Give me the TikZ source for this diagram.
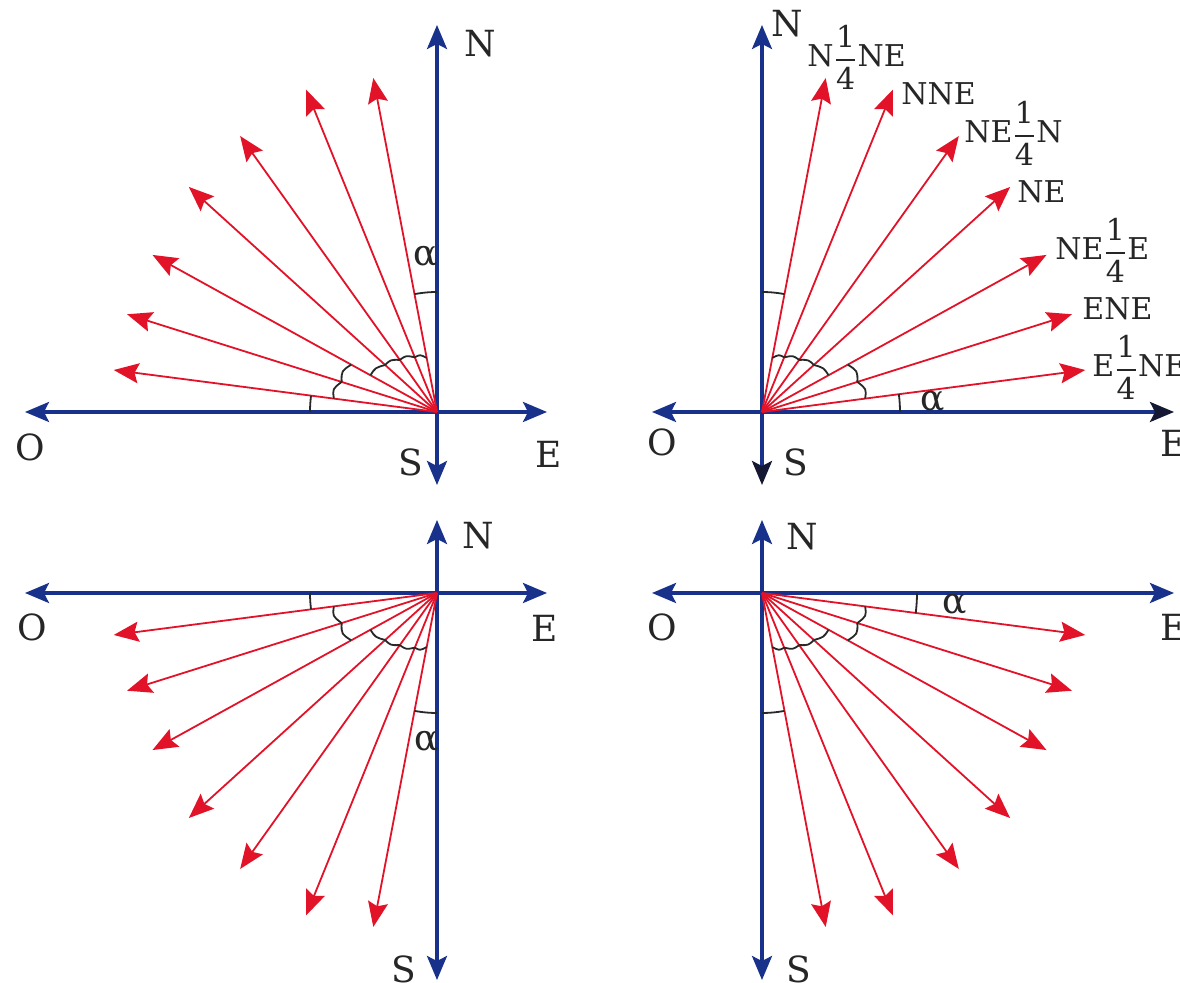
\documentclass[tikz,border=0pt]{standalone}
\usepackage{amsmath}
\usepackage{fontspec}
\setmainfont{DejaVu Serif}
\usetikzlibrary{arrows.meta}
\definecolor{axisblue}{RGB}{24,50,140}
\definecolor{vecred}{RGB}{226,18,40}
\definecolor{arcdark}{RGB}{40,40,40}
\definecolor{headdark}{RGB}{20,24,50}
\newcommand\qfrac{\ensuremath{\genfrac{}{}{1.1pt}{0}{\mbox{1}}{\mbox{4}}}}
\tikzset{
  axisline/.style={draw=axisblue,line width=1.6pt},
  vec/.style={draw=vecred,line width=0.9pt,-{Stealth[length=12.5pt,width=10pt,inset=2pt]}},
  arcline/.style={draw=arcdark,line width=0.9pt},
  axlab/.style={font=\fontsize{18}{20}\selectfont,text=black!85,inner sep=0pt},
  alab/.style={font=\fontsize{18}{20}\selectfont,text=black!85,inner sep=0pt},
  complab/.style={font=\fontsize{15}{18}\selectfont,text=black!85,inner sep=0pt,anchor=base west},
}
% #1 name, #2 X, #3 Y, #4 xscale, #5 yscale, #6 alpha radius, #7 local-east head colour, #8 local-south head colour
\newcommand\drawquad[8]{%
 \begin{scope}[shift={(#2,#3)},xscale=#4,yscale=#5]
  \coordinate (#1-o) at (0,0);
  \coordinate (#1-e) at (412,0);
  \coordinate (#1-w) at (-110,0);
  \coordinate (#1-n) at (0,387);
  \coordinate (#1-s) at (0,-73);
  \draw[axisline,{Stealth[length=12pt,width=10pt,inset=2.5pt]}-{Stealth[length=12pt,width=10pt,inset=2.5pt,color=#7]}] (#1-w) -- (#1-e);
  \draw[axisline,{Stealth[length=12pt,width=10pt,inset=2.5pt,color=#8]}-{Stealth[length=12pt,width=10pt,inset=2.5pt]}] (#1-s) -- (#1-n);
  \foreach \a/\r [count=\i] in {7.4/326,17.5/325,28.9/325,42.2/335,54.5/339,67.9/348,79.2/340}{
    \coordinate (#1-k\i) at (\a:\r);
    \draw[vec] (#1-o) -- (#1-k\i);
  }
  \draw[arcline] plot[domain=0:7.4,samples=8] (\x:#6);
  \draw[arcline] plot[domain=79.2:90,samples=8] (\x:120);
  \foreach \a/\b/\ra/\rb/\rc in {7.4/17.5/104/100/107, 17.5/28.9/100/98/104,
      28.9/42.2/76/70/76, 42.2/54.5/70/64/70, 54.5/67.9/64/59/64.5, 67.9/79.2/59/55/60}{
    \pgfmathsetmacro\m{(\a+\b)/2}
    \draw[arcline] (\a:\ra) .. controls (\m:\rc) .. (\b:\rb);
  }
 \end{scope}}

\begin{document}
\begin{tikzpicture}[x=0.5pt,y=-0.5pt]
\useasboundingbox (0,0) rectangle (1180,983);

\drawquad{tl}{437}{412}{-1}{-1}{127}{axisblue}{axisblue}
\drawquad{tr}{762}{412}{1}{-1}{138}{headdark}{headdark}
\drawquad{bl}{437}{593}{-1}{1}{127}{axisblue}{axisblue}
\drawquad{br}{762}{593}{1}{1}{155}{axisblue}{axisblue}

% top left labels
\node[axlab] (tlN) at (480,44) {N};
\node[axlab] (tlO) at (30,447) {O};
\node[axlab] (tlS) at (411,462) {S};
\node[axlab] (tlE) at (549,454) {E};
\node[alab] (tlA) at (426,257) {α};

% top right labels
\node[axlab] (trN) at (787,24) {N};
\node[axlab] (trO) at (662,442) {O};
\node[axlab] (trS) at (796,462) {S};
\node[axlab] (trE) at (1174,443) {E};
\node[alab] (trA) at (933,402) {α};
\node[complab] (c1) at (807,67) {N\qfrac NE};
\node[complab] (c2) at (901,105) {NNE};
\node[complab] (c3) at (964,143) {NE\qfrac N};
\node[complab] (c4) at (1017,203) {NE};
\node[complab] (c5) at (1055,260) {NE\qfrac E};
\node[complab] (c6) at (1082,320) {ENE};
\node[complab] (c7) at (1092,377) {E\qfrac NE};

% bottom left labels
\node[axlab] (blN) at (478,536) {N};
\node[axlab] (blO) at (32,627) {O};
\node[axlab] (blE) at (545,628) {E};
\node[axlab] (blS) at (404,969) {S};
\node[alab] (blA) at (427,742) {α};

% bottom right labels
\node[axlab] (brN) at (802,537) {N};
\node[axlab] (brO) at (662,627) {O};
\node[axlab] (brE) at (1174,627) {E};
\node[axlab] (brS) at (799,969) {S};
\node[alab] (brA) at (955,605) {α};
\end{tikzpicture}
\end{document}
